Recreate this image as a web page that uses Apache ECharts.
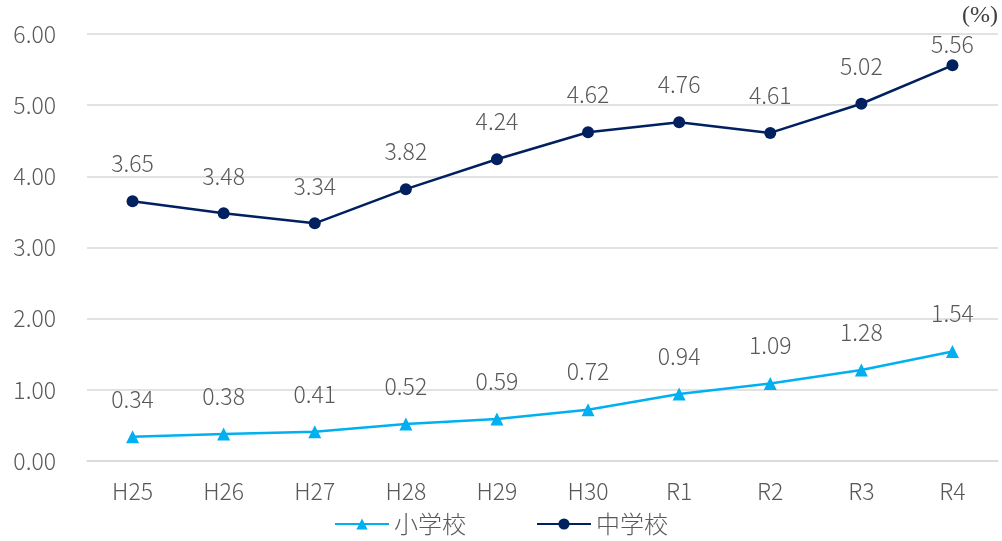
<!DOCTYPE html>
<html><head><meta charset="utf-8">
<script src="https://cdn.jsdelivr.net/npm/echarts@6/dist/echarts.min.js"></script>
<style>html,body{margin:0;padding:0;background:#fff}#c{width:1002px;height:541px}</style>
</head><body><div id="c"></div>
<script>
const categories = ['H25','H26','H27','H28','H29','H30','R1','R2','R3','R4'];
const elementary = [0.34,0.38,0.41,0.52,0.59,0.72,0.94,1.09,1.28,1.54];
const juniorHigh = [3.65,3.48,3.34,3.82,4.24,4.62,4.76,4.61,5.02,5.56];
const yTicks = [0,1,2,3,4,5,6];

const font = '"Noto Sans CJK JP", "Noto Sans", sans-serif';
const txt = {fontSize: 23, color: '#595959', fontFamily: font, fontWeight: 300};
const chart = echarts.init(document.getElementById('c'));
const fmt = p => p.value.toFixed(2);
chart.setOption({
  animation: false,
  textStyle: {fontFamily: font},
  grid: {left: 87, right: 4, top: 34, bottom: 80},
  graphic: [{type:'text', right: 4, top: 4, style:{text:'(%)', font:'24px "Liberation Serif", serif', fill:'#404040'}}],
  legend: {
    bottom: 0, left: 'center', itemWidth: 54, itemHeight: 14, itemGap: 70,
    textStyle: Object.assign({}, txt, {fontSize: 24}),
    data: ['小学校','中学校']
  },
  xAxis: {
    type: 'category', data: categories, boundaryGap: true,
    axisLine: {show: true, lineStyle: {color: '#d9d9d9', width: 1.5}},
    axisTick: {show: false},
    axisLabel: Object.assign({margin: 19}, txt)
  },
  yAxis: {
    type: 'value', min: yTicks[0], max: yTicks[yTicks.length-1], interval: 1,
    axisLine: {show: false}, axisTick: {show: false},
    splitLine: {lineStyle: {color: '#d9d9d9', width: 1.5}},
    axisLabel: Object.assign({margin: 31, formatter: v => v.toFixed(2)}, txt)
  },
  series: [
    {name:'小学校', type:'line', data: elementary, symbol:'triangle', symbolSize: 13,
     lineStyle:{color:'#00B0F0', width:2.5}, itemStyle:{color:'#00B0F0'},
     label: Object.assign({show:true, position:'top', distance: 20, formatter: fmt}, txt)},
    {name:'中学校', type:'line', symbol:'circle', symbolSize: 12,
     data: juniorHigh.map((v, i) => i === juniorHigh.length - 1 ? {value: v, label: {distance: 4}} : v),
     lineStyle:{color:'#002060', width:2.5}, itemStyle:{color:'#002060'},
     label: Object.assign({show:true, position:'top', distance: 20, formatter: fmt}, txt)}
  ]
});
</script></body></html>
